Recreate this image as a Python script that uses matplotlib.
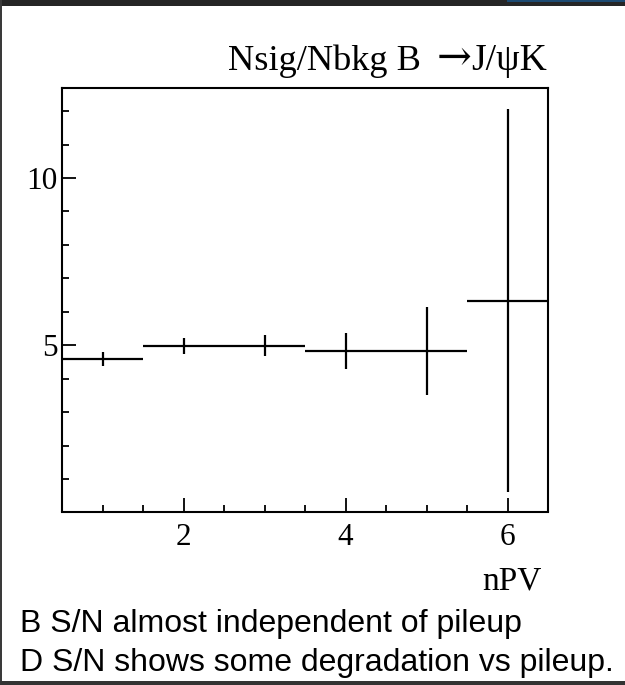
import numpy as np
import matplotlib
matplotlib.use("Agg")
from matplotlib import pyplot as plt
from matplotlib.patches import Rectangle
from matplotlib.ticker import MultipleLocator

# S/N per number of primary vertices
npv = [1, 2, 3, 4, 5, 6]
ratio = [4.60, 4.98, 4.99, 4.83, 4.83, 6.33]
ratio_err = [0.21, 0.23, 0.32, 0.55, 1.31, 5.72]
bin_half = [0.5, 0.5, 0.5, 0.5, 0.5, 0.5]

# title pieces: ratio name, decay arrow, final state
title_parts = ["Nsig/Nbkg B", "\u2192", "J/\u03c8K"]
xlabel = "nPV"
notes = ["B S/N almost independent of pileup",
         "D S/N shows some degradation vs pileup."]

W, H = 625, 685
serif = ["Liberation Serif", "DejaVu Serif"]
sans = ["Liberation Sans", "DejaVu Sans"]

def fx(px):
    return px / W

def fy(py):
    return 1 - py / H

fig = plt.figure(figsize=(W / 100, H / 100), dpi=100)
fig.patch.set_facecolor("white")

ax = fig.add_axes([fx(62), fy(511.5), fx(548) - fx(62), fy(88) - fy(511.5)])
ax.errorbar(npv, ratio, xerr=bin_half, yerr=ratio_err, fmt="none",
            ecolor="black", elinewidth=1.6, capsize=0)

ax.set_xlim(0.5, 6.5)
ax.set_ylim(0.03, 12.69)
ax.xaxis.set_major_locator(MultipleLocator(2))
ax.xaxis.set_minor_locator(MultipleLocator(0.5))
ax.yaxis.set_major_locator(MultipleLocator(5))
ax.yaxis.set_minor_locator(MultipleLocator(1))
ax.tick_params(which="both", direction="in", top=False, right=False,
               width=1.3, color="black")
ax.tick_params(which="major", length=10)
ax.tick_params(which="minor", length=5)
ax.tick_params(axis="x", which="major", pad=8)
ax.tick_params(axis="y", which="major", pad=3)
for lab in ax.get_xticklabels() + ax.get_yticklabels():
    lab.set_family(serif)
    lab.set_fontsize(22.5)
for sp in ax.spines.values():
    sp.set_linewidth(1.5)

fig.text(fx(421), fy(70), title_parts[0], ha="right", va="baseline",
         family=serif, fontsize=26.2)
fig.text(fx(471), fy(70), title_parts[1], ha="right", va="baseline",
         family=["DejaVu Serif"], fontsize=30)
fig.text(fx(547), fy(70), title_parts[2], ha="right", va="baseline",
         family=serif, fontsize=27)
fig.text(fx(542), fy(590), xlabel, ha="right", va="baseline",
         family=serif, fontsize=24)
fig.text(fx(20), fy(632), notes[0], ha="left", va="baseline",
         family=sans, fontsize=23)
fig.text(fx(20), fy(671), notes[1], ha="left", va="baseline",
         family=sans, fontsize=23)

# slide frame
def band(x0, y0, x1, y1, color):
    fig.add_artist(Rectangle((fx(x0), fy(y1)), fx(x1) - fx(x0), fy(y0) - fy(y1),
                             transform=fig.transFigure, facecolor=color,
                             edgecolor="none", zorder=10))

band(0, 0, W, 6, "#262626")
band(507, 0, W, 2, "#1c4a72")
band(0, 0, 2, 683, "#3a3a3a")
band(0, 681, W, H, "#333333")

fig.savefig("out.png", dpi=100)
